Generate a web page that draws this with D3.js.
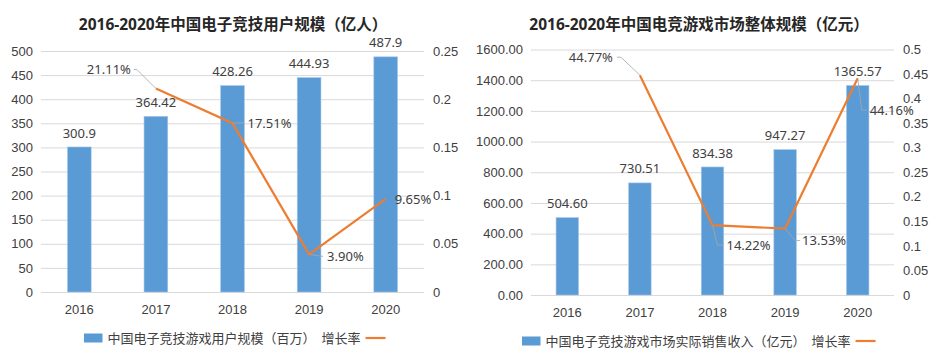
<!DOCTYPE html>
<html><head><meta charset="utf-8">
<script src="https://cdn.jsdelivr.net/npm/d3@7"></script>
<style>
html,body{margin:0;padding:0;background:#fff;}
svg{display:block;font-family:"Noto Sans","Noto Sans CJK SC",sans-serif;}
</style></head>
<body><svg id="c" width="936" height="358"></svg>
<script>
// ---- data ----
const years = ["2016", "2017", "2018", "2019", "2020"];
const userScale = [300.9, 364.42, 428.26, 444.93, 487.9];
const userGrowth = [null, 0.2111, 0.1751, 0.0390, 0.0965];
const marketRevenue = [504.60, 730.51, 834.38, 947.27, 1365.57];
const marketGrowth = [null, 0.4477, 0.1422, 0.1353, 0.4416];
const userLeftTicks = [0, 50, 100, 150, 200, 250, 300, 350, 400, 450, 500];
const userRightTicks = [0, 0.05, 0.1, 0.15, 0.2, 0.25];
const marketLeftTicks = [0, 200, 400, 600, 800, 1000, 1200, 1400, 1600];
const marketRightTicks = [0, 0.05, 0.1, 0.15, 0.2, 0.25, 0.3, 0.35, 0.4, 0.45, 0.5];
const titles = ["2016-2020年中国电子竞技用户规模（亿人）", "2016-2020年中国电竞游戏市场整体规模（亿元）"];
const barNames = ["中国电子竞技游戏用户规模（百万）", "中国电子竞技游戏市场实际销售收入（亿元）"];
const lineName = "增长率";

// ---- styling / layout ----
const BAR = "#5b9bd5", LINE = "#ed7d31", GRID = "#d9d9d9", TXT = "#404040", LEAD = "#a6a6a6";
const svg = d3.select("#c");

function drawChart(cfg) {
  const g = svg.append("g");
  const x = d3.scaleBand().domain(years).range([cfg.x0, cfg.x1]).paddingInner(0.69).paddingOuter(0.345);
  const yL = d3.scaleLinear().domain([0, d3.max(cfg.leftTicks)]).range([cfg.yb, cfg.yt]);
  const yR = d3.scaleLinear().domain([0, d3.max(cfg.rightTicks)]).range([cfg.yb, cfg.yt]);

  // gridlines
  g.append("g").attr("transform", `translate(${cfg.x0},0)`)
    .call(d3.axisLeft(yL).tickValues(cfg.leftTicks).tickSize(-(cfg.x1 - cfg.x0)).tickFormat(""))
    .call(s => s.select(".domain").remove())
    .call(s => s.selectAll("line").attr("stroke", GRID).attr("stroke-width", 1));

  // left axis labels
  g.append("g").attr("transform", `translate(${cfg.lx},0)`)
    .call(d3.axisLeft(yL).tickValues(cfg.leftTicks).tickSize(0).tickPadding(0).tickFormat(cfg.leftFmt))
    .call(s => s.select(".domain").remove())
    .call(s => s.selectAll("text").attr("fill", TXT).style("font-size", "13px").style("font-family", null));

  // right axis labels
  g.append("g").attr("transform", `translate(${cfg.rx},0)`)
    .call(d3.axisRight(yR).tickValues(cfg.rightTicks).tickSize(0).tickPadding(0).tickFormat(d => String(d)))
    .call(s => s.select(".domain").remove())
    .call(s => s.selectAll("text").attr("fill", TXT).style("font-size", "13px").style("font-family", null));

  // x labels
  g.append("g").attr("transform", `translate(0,${cfg.xly})`)
    .call(d3.axisBottom(x).tickSize(0).tickPadding(0))
    .call(s => s.select(".domain").remove())
    .call(s => s.selectAll("text").attr("fill", TXT).attr("dy", "0.35em").style("font-size", "13px").style("font-family", null));

  // bars
  g.selectAll("rect.bar").data(cfg.bars).join("rect").attr("class", "bar")
    .attr("x", (d, i) => x(years[i])).attr("width", x.bandwidth())
    .attr("y", d => yL(d)).attr("height", d => yL(0) - yL(d))
    .attr("fill", BAR).attr("stroke", "#a9c8ea").attr("stroke-width", 0.6);

  // bar labels
  g.selectAll("text.bl").data(cfg.bars).join("text").attr("class", "bl")
    .attr("x", (d, i) => x(years[i]) + x.bandwidth() / 2).attr("y", d => yL(d) - 14)
    .attr("dy", "0.35em").attr("text-anchor", "middle").attr("fill", TXT).style("font-size", "13px")
    .text(cfg.barFmt);

  // line
  const pts = cfg.growth.map((v, i) => v == null ? null : [x(years[i]) + x.bandwidth() / 2, yR(v)]).filter(p => p);
  g.append("path").datum(pts).attr("d", d3.line()).attr("fill", "none").attr("stroke", LINE).attr("stroke-width", 2.2);

  // line labels with leaders
  const fmt = d3.format(".2%");
  cfg.growth.forEach((v, i) => {
    if (v == null) return;
    const px = x(years[i]) + x.bandwidth() / 2, py = yR(v);
    const L = cfg.lab[i];
    if (L.leader) {
      g.append("path").attr("d", d3.line()([[px, py]].concat(L.leader.map(p => [px + p[0], py + p[1]]))))
        .attr("fill", "none").attr("stroke", LEAD).attr("stroke-width", 0.8);
    }
    g.append("text").attr("x", px + L.dx).attr("y", py + L.dy).attr("dy", "0.35em")
      .attr("text-anchor", L.anchor).attr("fill", TXT).style("font-size", "13px").text(fmt(v));
  });

  // title
  g.append("text").attr("x", cfg.tx).attr("y", 25).attr("dy", "0.35em").attr("text-anchor", "middle")
    .attr("fill", "#262626").style("font-size", "15.5px").style("font-weight", "bold").text(cfg.title);

  // legend
  const lg = g.append("g");
  lg.append("rect").attr("x", cfg.legX).attr("y", cfg.legY - 4.5).attr("width", 18.5).attr("height", 9).attr("fill", BAR);
  const t1 = lg.append("text").attr("x", cfg.legX + 23.5).attr("y", cfg.legY).attr("dy", "0.35em")
    .attr("fill", TXT).style("font-size", "13px").text(cfg.barName);
  const w1 = t1.node().getComputedTextLength();
  const t2 = lg.append("text").attr("x", cfg.legX + 23.5 + w1 + 6).attr("y", cfg.legY).attr("dy", "0.35em")
    .attr("fill", TXT).style("font-size", "13px").text(lineName);
  const w2 = t2.node().getComputedTextLength();
  const lx0 = cfg.legX + 23.5 + w1 + 6 + w2 + 5;
  lg.append("line").attr("x1", lx0).attr("x2", lx0 + 20).attr("y1", cfg.legY).attr("y2", cfg.legY)
    .attr("stroke", LINE).attr("stroke-width", 2.2);
}

drawChart({
  x0: 41, x1: 424, yb: 292, yt: 51, lx: 33, rx: 433, xly: 309, tx: 233,
  leftTicks: userLeftTicks, rightTicks: userRightTicks, leftFmt: d => String(d),
  bars: userScale, barFmt: d => String(d), growth: userGrowth,
  title: titles[0], barName: barNames[0], legX: 84, legY: 338,
  lab: [null,
    {dx: -25, dy: -19, anchor: "end", leader: [[-19, -19], [-22, -19]]},
    {dx: 15, dy: 0, anchor: "start", leader: [[12, -0.5]]},
    {dx: 18, dy: 2, anchor: "start", leader: [[14, 2]]},
    {dx: 9, dy: 0, anchor: "start", leader: null}]
});

drawChart({
  x0: 531, x1: 894, yb: 295, yt: 49.5, lx: 523, rx: 903, xly: 312, tx: 699,
  leftTicks: marketLeftTicks, rightTicks: marketRightTicks, leftFmt: d => d.toFixed(2),
  bars: marketRevenue, barFmt: d => d.toFixed(2), growth: marketGrowth,
  title: titles[1], barName: barNames[1], legX: 522, legY: 341,
  lab: [null,
    {dx: -27, dy: -18, anchor: "end", leader: [[-19, -18], [-23, -18]]},
    {dx: 14, dy: 20, anchor: "start", leader: [[5, 20], [11, 20]]},
    {dx: 17, dy: 12, anchor: "start", leader: [[10, 12], [15, 12]]},
    {dx: 12, dy: 32, anchor: "start", leader: [[4, 32], [9, 32]]}]
});
</script></body></html>
